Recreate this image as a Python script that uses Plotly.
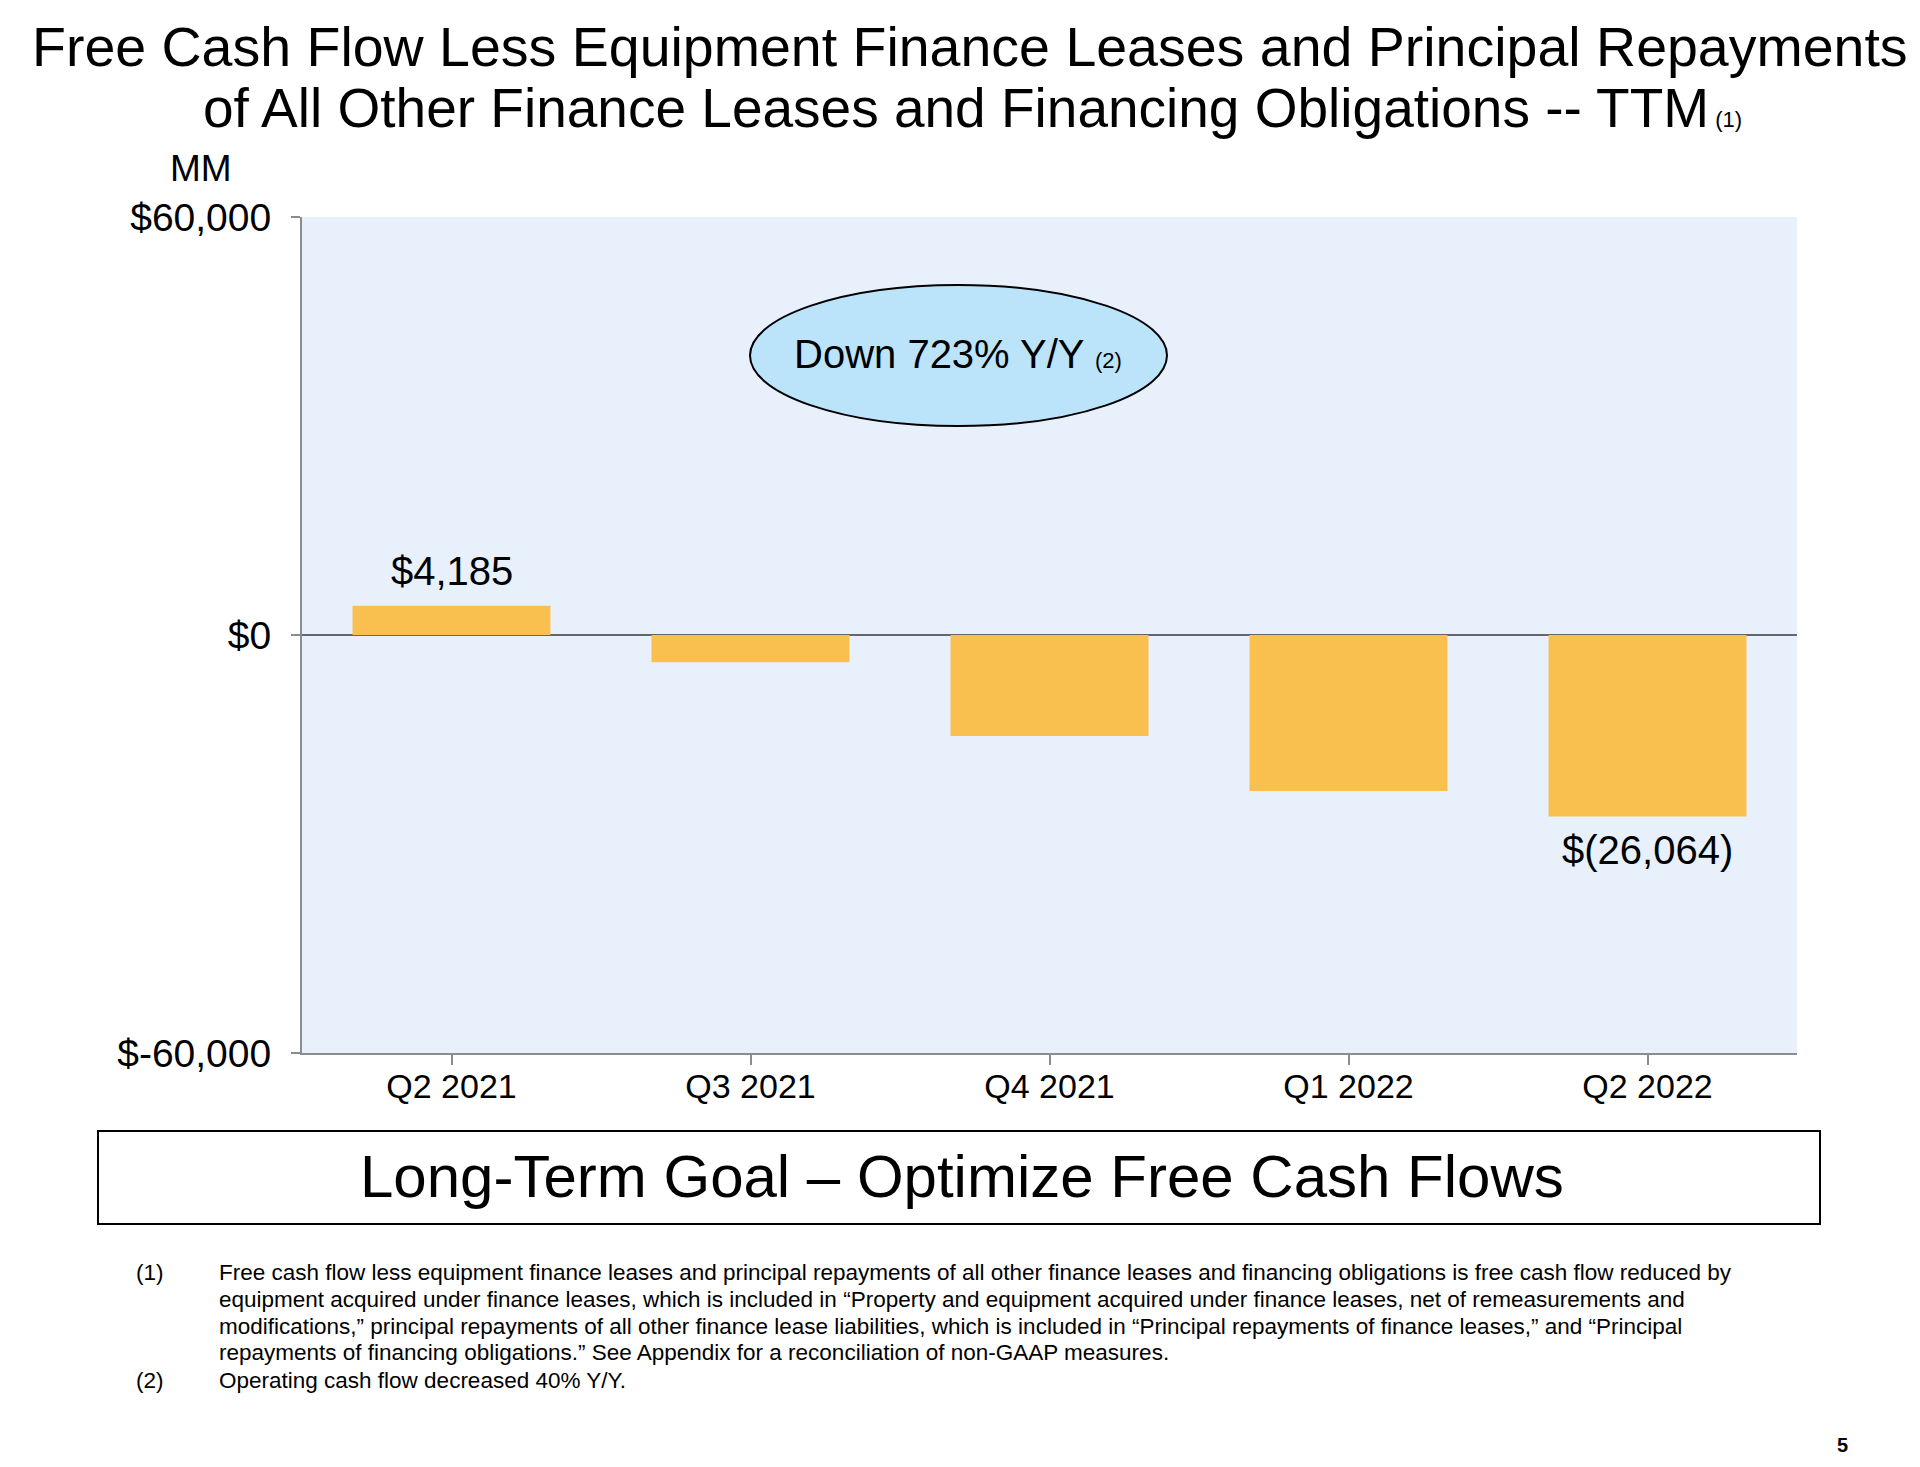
import plotly.graph_objects as go

# ---- data ----
quarters = ["Q2 2021", "Q3 2021", "Q4 2021", "Q1 2022", "Q2 2022"]
fcf_values = [4185, -3900, -14500, -22400, -26064]
value_labels = ["$4,185", "", "", "", "$(26,064)"]
ytick_vals = [-60000, 0, 60000]
ytick_text = ["$-60,000", "$0", "$60,000"]

title_line1 = "Free Cash Flow Less Equipment Finance Leases and Principal Repayments"
title_line2 = "of All Other Finance Leases and Financing Obligations -- TTM"
callout_text = "Down 723% Y/Y"
goal_text = "Long-Term Goal \u2013 Optimize Free Cash Flows"
footnote_marks = ["(1)", "", "", "", "(2)"]
footnote_lines = [
    "Free cash flow less equipment finance leases and principal repayments of all other finance leases and financing obligations is free cash flow reduced by",
    "equipment acquired under finance leases, which is included in \u201cProperty and equipment acquired under finance leases, net of remeasurements and",
    "modifications,\u201d principal repayments of all other finance lease liabilities, which is included in \u201cPrincipal repayments of finance leases,\u201d and \u201cPrincipal",
    "repayments of financing obligations.\u201d See Appendix for a reconciliation of non-GAAP measures.",
    "Operating cash flow decreased 40% Y/Y.",
]

# ---- layout geometry (pixels) ----
W, H = 1920, 1467
L, R, T, B = 302, 1797, 217, 1053
PW, PH = R - L, B - T


def px(x):
    return (x - L) / PW


def py(y):
    return (B - y) / PH


FONT = "Arial, 'Liberation Sans', Helvetica, sans-serif"
BAR_COLOR = "#F9C04F"
BG = "#E8F0FC"

fig = go.Figure()
fig.add_trace(go.Bar(
    x=quarters, y=fcf_values, marker=dict(color=BAR_COLOR, line=dict(width=0)),
    hoverinfo="skip", showlegend=False,
))

annotations = []
# value labels
for q, v, lab in zip(quarters, fcf_values, value_labels):
    if lab:
        annotations.append(dict(
            x=q, y=v, xref="x", yref="y", text=lab, showarrow=False,
            yanchor="middle", yshift=35 if v > 0 else -33,
            font=dict(size=40, color="black", family=FONT),
        ))

# title
annotations.append(dict(x=px(970), y=py(47), xref="paper", yref="paper", text=title_line1,
                        showarrow=False, xanchor="center", yanchor="middle",
                        font=dict(size=55.5, color="black", family=FONT)))
annotations.append(dict(x=px(972), y=py(108), xref="paper", yref="paper",
                        text=title_line2 + "<span style='font-size:22px'> (1)</span>",
                        showarrow=False, xanchor="center", yanchor="middle",
                        font=dict(size=55, color="black", family=FONT)))
# MM
annotations.append(dict(x=px(201), y=py(169), xref="paper", yref="paper", text="MM",
                        showarrow=False, xanchor="center", yanchor="middle",
                        font=dict(size=37, color="black", family=FONT)))
# callout
annotations.append(dict(x=px(958), y=py(354), xref="paper", yref="paper",
                        text=callout_text + " <span style='font-size:22px'>(2)</span>",
                        showarrow=False, xanchor="center", yanchor="middle",
                        font=dict(size=40, color="black", family=FONT)))
# goal box text
annotations.append(dict(x=px(962), y=py(1176), xref="paper", yref="paper", text=goal_text,
                        showarrow=False, xanchor="center", yanchor="middle",
                        font=dict(size=60, color="black", family=FONT)))
# footnotes
foot_y = [1272, 1299, 1326, 1352, 1380]
for m, line, yy in zip(footnote_marks, footnote_lines, foot_y):
    if m:
        annotations.append(dict(x=px(134), y=py(yy), xref="paper", yref="paper", text=m,
                                showarrow=False, xanchor="left", yanchor="middle",
                                font=dict(size=22.5, color="black", family=FONT)))
    annotations.append(dict(x=px(217), y=py(yy), xref="paper", yref="paper", text=line,
                            showarrow=False, xanchor="left", yanchor="middle",
                            font=dict(size=22.5, color="black", family=FONT)))
# page number
annotations.append(dict(x=px(1843), y=py(1445), xref="paper", yref="paper", text="<b>5</b>",
                        showarrow=False, xanchor="center", yanchor="middle",
                        font=dict(size=20, color="black", family=FONT)))

shapes = [
    dict(type="circle", xref="paper", yref="paper",
         x0=px(750), x1=px(1167), y0=py(426), y1=py(285),
         fillcolor="#BBE4FA", line=dict(color="black", width=2), layer="above"),
    dict(type="rect", xref="paper", yref="paper",
         x0=px(98), x1=px(1820), y0=py(1224), y1=py(1131),
         fillcolor="rgba(0,0,0,0)", line=dict(color="black", width=2)),
]

fig.update_layout(
    width=W, height=H, autosize=False,
    margin=dict(l=L, r=W - R, t=T, b=H - B, pad=0),
    paper_bgcolor="white", plot_bgcolor=BG,
    font=dict(family=FONT, color="black"),
    bargap=0.338,
    annotations=annotations, shapes=shapes,
    xaxis=dict(
        showgrid=False, zeroline=False, showline=True, linecolor="#8C8C8C", linewidth=2,
        ticks="outside", ticklen=10, tickwidth=2, tickcolor="#8C8C8C",
        tickfont=dict(size=34, color="black", family=FONT), ticklabelstandoff=-8,
        fixedrange=True,
    ),
    yaxis=dict(
        range=[-60000, 60000], showgrid=False, zeroline=True, zerolinecolor="#666666",
        zerolinewidth=2, showline=True, linecolor="#8C8C8C", linewidth=2,
        ticks="outside", ticklen=9, tickwidth=2, tickcolor="#8C8C8C",
        tickvals=ytick_vals, ticktext=ytick_text,
        tickfont=dict(size=39, color="black", family=FONT), ticklabelstandoff=12,
        fixedrange=True,
    ),
)

fig.write_html("out.html", config={"displayModeBar": False},
               post_script="document.body.style.margin='0';document.body.style.overflow='hidden';")
